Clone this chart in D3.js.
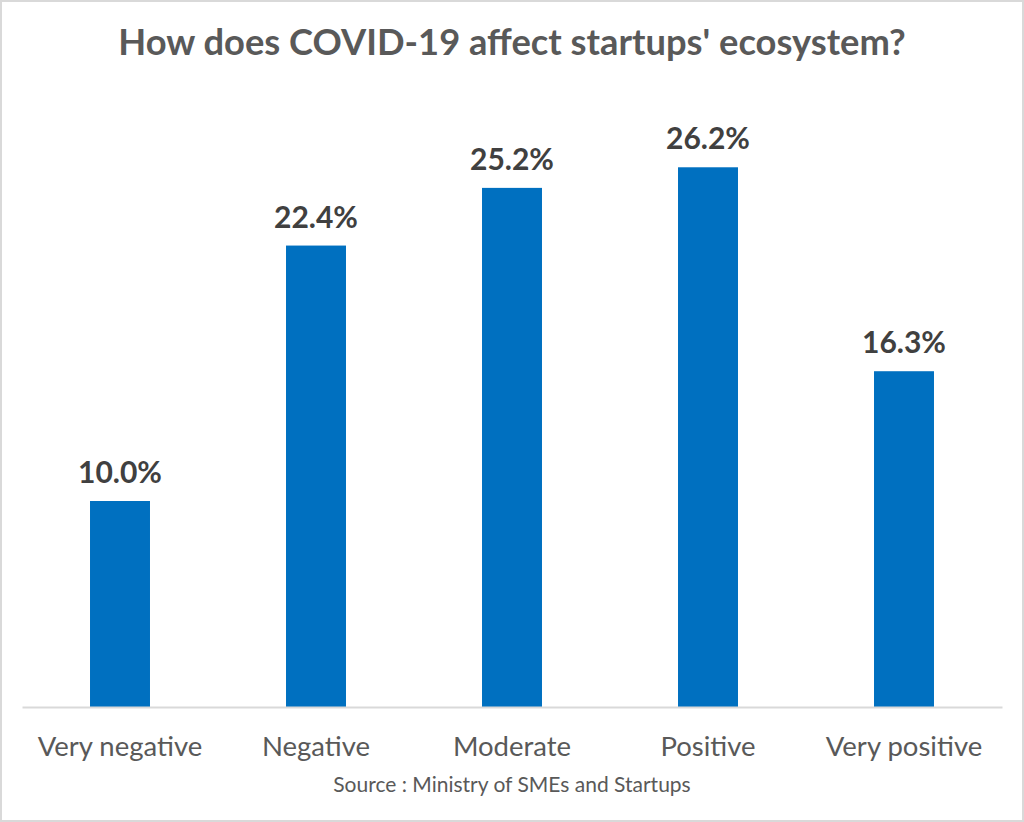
<!DOCTYPE html>
<html><head><meta charset="utf-8">
<script src="https://cdn.jsdelivr.net/npm/d3@7"></script>
<style>html,body{margin:0;padding:0;background:#fff;}svg{display:block;}</style>
</head><body>
<svg id="c" width="1024" height="822"></svg>
<script>
const categories = ["Very negative", "Negative", "Moderate", "Positive", "Very positive"];
const values = [10.0, 22.4, 25.2, 26.2, 16.3];
const title = "How does COVID-19 affect startups' ecosystem?";
const source = "Source : Ministry of SMEs and Startups";

const svg = d3.select("#c");
const W = 1024, H = 822;
const font = "Lato, 'Open Sans', sans-serif";

svg.append("rect").attr("x",1).attr("y",1).attr("width",W-2).attr("height",H-2)
  .attr("fill","#fff").attr("stroke","#d9d9d9").attr("stroke-width",2);

const x = d3.scaleBand().domain(categories).range([22, 1002]).paddingInner(0.694).paddingOuter(0.347);
const y = d3.scaleLinear().domain([0, 30]).range([707, 89]);

svg.append("text").attr("x", 512).attr("y", 55).attr("text-anchor","middle")
  .attr("font-family", font).attr("font-weight","bold").attr("font-size", 36.3)
  .attr("fill","#595959").text(title);

svg.selectAll("rect.bar").data(values).join("rect").attr("class","bar")
  .attr("x",(d,i)=>x(categories[i])).attr("width",x.bandwidth())
  .attr("y",d=>y(d)).attr("height",d=>y(0)-y(d)).attr("fill","#0070c0");

svg.selectAll("text.val").data(values).join("text").attr("class","val")
  .attr("x",(d,i)=>x(categories[i])+x.bandwidth()/2).attr("y",d=>y(d)-18)
  .attr("text-anchor","middle").attr("font-family",font).attr("font-weight","bold")
  .attr("font-size",30).attr("fill","#404040").text(d=>d.toFixed(1)+"%");

const ax = svg.append("g").attr("transform","translate(0,707)")
  .call(d3.axisBottom(x).tickSize(0).tickPadding(0));
ax.select(".domain").attr("stroke","#d9d9d9").attr("stroke-width",2);
ax.selectAll("text").attr("dy",null).attr("y",49).attr("font-family",font).attr("font-size",27.5).attr("fill","#595959");

svg.append("text").attr("x",512).attr("y",792).attr("text-anchor","middle")
  .attr("font-family",font).attr("font-size",21).attr("fill","#595959").text(source);
</script>
</body></html>
